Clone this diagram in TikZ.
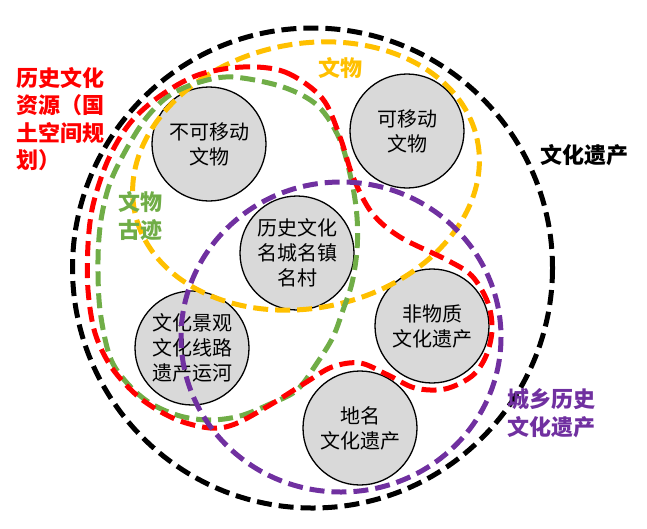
\documentclass[tikz,border=0pt]{standalone}
\usepackage{fontspec}
\newfontfamily\cjk{Noto Sans CJK SC}
\definecolor{grayfill}{HTML}{D9D9D9}
\definecolor{cred}{HTML}{FF0000}
\definecolor{cyel}{HTML}{FFC000}
\definecolor{cgrn}{HTML}{70AD47}
\definecolor{cpur}{HTML}{7030A0}
\begin{document}
\begin{tikzpicture}[x=1pt,y=-1pt,
  ring/.style={line width=5pt, dash pattern=on 15pt off 7pt},
  item/.style={circle, draw=black, line width=1.3pt, fill=grayfill, minimum size=114pt, inner sep=0pt, align=center, font=\cjk\fontsize{20}{25}\selectfont},
  lab/.style={font=\cjk\bfseries\fontsize{22}{27.5}\selectfont, align=left, inner sep=0pt}]
\useasboundingbox (0,0) rectangle (647,528);
% items
\node[item] (bkyd) at (209,144) {不可移动\\文物};
\node[item] (kyd) at (407,131) {可移动\\文物};
\node[item] (mc) at (297,253) {历史文化\\名城名镇\\名村};
\node[item] (jg) at (192,348) {文化景观\\文化线路\\遗产运河};
\node[item] (fwz) at (432,326) {非物质\\文化遗产};
\node[item] (dm) at (360,428) {地名\\文化遗产};
% rings
\draw[ring, black] (312.5,268) circle [radius=240];
\draw[ring, cyel, shift={(306,176)}, rotate=12] (0,0) ellipse [x radius=175, y radius=132];
\draw[ring, cgrn] plot[smooth cycle, tension=0.55] coordinates {
 (233,77) (283,87) (318,106) (340,140) (352,183) (357,217) (357,250) (352,283)
 (343,310) (333,337) (317,363) (297,390) (270,404) (240,416) (210,420) (180,416)
 (150,403) (127,383) (110,357) (100,310) (98,260) (101,220) (110,183) (127,148)
 (147,117) (170,95) (200,82)};
\draw[ring, cred] plot[smooth cycle, tension=0.55] coordinates {
 (243,67) (285,72) (322,98) (340,137) (353,177) (372,213) (400,237) (447,260)
 (472,276) (488,303) (492,330) (486,356) (472,376) (445,389) (415,388) (388,375)
 (360,363) (332,367) (305,383) (270,405) (235,424) (210,428) (175,419) (140,398)
 (112,368) (95,333) (88,290) (88,245) (93,205) (108,160) (130,123) (160,96) (198,75)};
\draw[ring, cpur] (341,337) ellipse [x radius=160, y radius=155];
% labels
\node[lab, text=cred, anchor=west] (lred) at (16,119) {历史文化\\资源（国\\土空间规\\划）};
\node[lab, text=cyel] (lyel) at (340,68) {文物};
\node[lab, text=cgrn] (lgrn) at (140,216) {文物\\古迹};
\node[lab, text=black] (lblk) at (584,155) {文化遗产};
\node[lab, text=cpur] (lpur) at (551,413) {城乡历史\\文化遗产};
\end{tikzpicture}
\end{document}
